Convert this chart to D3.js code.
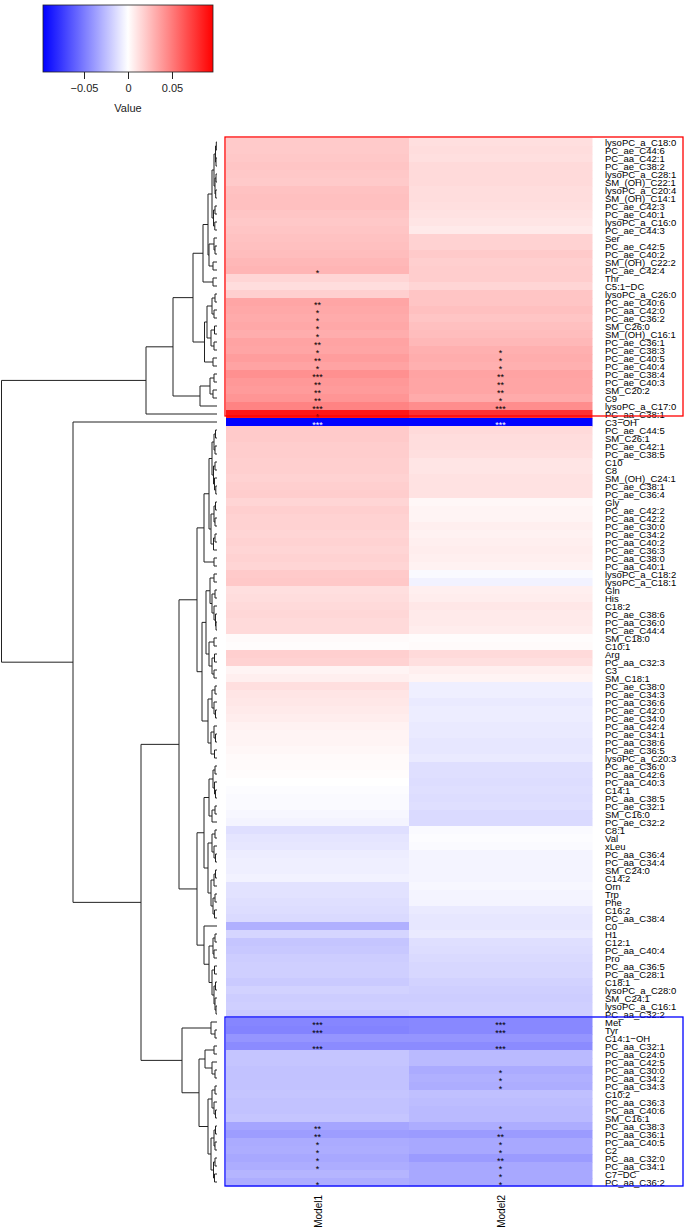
<!DOCTYPE html>
<html>
<head>
<meta charset="utf-8">
<script src="https://cdn.jsdelivr.net/npm/d3@7"></script>
<style>
  body { margin: 0; background: #fff; }
  svg { display: block; font-family: "Liberation Sans", Arial, sans-serif; }
</style>
</head>
<body>
<svg id="chart" width="685" height="1232"></svg>
<script>
// row labels, top to bottom
var labels = [
  "lysoPC_a_C18:0","PC_ae_C44:6","PC_aa_C42:1","PC_ae_C38:2","lysoPC_a_C28:1","SM_(OH)_C22:1",
  "lysoPC_a_C20:4","SM_(OH)_C14:1","PC_ae_C42:3","PC_ae_C40:1","lysoPC_a_C16:0","PC_ae_C44:3",
  "Ser","PC_ae_C42:5","PC_ae_C40:2","SM_(OH)_C22:2","PC_ae_C42:4","Thr","C5:1\u2212DC",
  "lysoPC_a_C26:0","PC_ae_C40:6","PC_aa_C42:0","PC_ae_C36:2","SM_C26:0","SM_(OH)_C16:1",
  "PC_ae_C36:1","PC_ae_C38:3","PC_ae_C40:5","PC_ae_C40:4","PC_ae_C38:4","PC_ae_C40:3",
  "SM_C20:2","C9","lysoPC_a_C17:0","PC_aa_C38:1","C3\u2212OH","PC_ae_C44:5","SM_C26:1",
  "PC_ae_C42:1","PC_ae_C38:5","C10","C8","SM_(OH)_C24:1","PC_ae_C38:1","PC_ae_C36:4","Gly",
  "PC_ae_C42:2","PC_aa_C42:2","PC_ae_C30:0","PC_ae_C34:2","PC_aa_C40:2","PC_ae_C36:3",
  "PC_aa_C38:0","PC_aa_C40:1","lysoPC_a_C18:2","lysoPC_a_C18:1","Gln","His","C18:2",
  "PC_ae_C38:6","PC_aa_C36:0","PC_ae_C44:4","SM_C18:0","C10:1","Arg","PC_aa_C32:3","C3",
  "SM_C18:1","PC_ae_C38:0","PC_ae_C34:3","PC_aa_C36:6","PC_ae_C42:0","PC_ae_C34:0",
  "PC_aa_C42:4","PC_ae_C34:1","PC_aa_C38:6","PC_ae_C36:5","lysoPC_a_C20:3","PC_ae_C36:0",
  "PC_aa_C42:6","PC_aa_C40:3","C14:1","PC_aa_C38:5","PC_ae_C32:1","SM_C16:0","PC_ae_C32:2",
  "C8:1","Val","xLeu","PC_aa_C36:4","PC_aa_C34:4","SM_C24:0","C14:2","Orn","Trp","Phe",
  "C16:2","PC_aa_C38:4","C0","H1","C12:1","PC_aa_C40:4","Pro","PC_aa_C36:5","PC_aa_C28:1",
  "C18:1","lysoPC_a_C28:0","SM_C24:1","lysoPC_a_C16:1","PC_aa_C32:2","Met","Tyr",
  "C14:1\u2212OH","PC_aa_C32:1","PC_aa_C24:0","PC_aa_C42:5","PC_aa_C30:0","PC_aa_C34:2",
  "PC_aa_C34:3","C10:2","PC_aa_C36:3","PC_aa_C40:6","SM_C16:1","PC_aa_C38:3","PC_aa_C36:1",
  "PC_aa_C40:5","C2","PC_aa_C32:0","PC_aa_C34:1","C7\u2212DC","PC_aa_C36:2"
];

var models = ["Model1", "Model2"];

var model1 = [
  0.020,0.020,0.021,0.022,0.021,0.020,0.023,0.024,0.024,0.022,0.021,0.022,
  0.023,0.024,0.025,0.027,0.028,0.016,0.013,
  0.018,0.034,0.033,0.032,0.033,0.031,0.035,0.034,0.037,0.035,0.042,0.039,0.038,0.040,0.047,0.088,
  -0.096,
  0.020,0.020,0.019,0.019,0.018,0.018,0.017,0.018,0.019,0.016,0.018,0.017,0.017,0.016,0.017,0.016,
  0.017,0.016,0.020,0.021,0.012,0.013,0.014,0.015,0.014,0.014,0.002,0.001,0.018,0.017,0.004,0.006,
  0.012,0.010,0.009,0.008,0.007,0.005,0.004,0.004,0.003,0.002,
  0.002,0.001,0.000,-0.001,-0.002,-0.002,-0.003,-0.004,
  -0.012,-0.010,-0.009,-0.007,-0.006,-0.006,-0.005,-0.011,-0.011,-0.012,-0.013,-0.014,
  -0.030,-0.016,-0.022,-0.021,-0.019,-0.018,-0.018,-0.020,-0.017,-0.019,-0.018,-0.020,
  -0.046,-0.047,-0.040,-0.044,
  -0.022,-0.022,-0.023,-0.023,-0.023,-0.022,-0.023,-0.023,-0.022,
  -0.034,-0.037,-0.032,-0.031,-0.033,-0.031,-0.028,-0.031
];

var model2 = [
  0.012,0.013,0.012,0.014,0.014,0.014,0.013,0.013,0.012,0.011,0.010,0.008,
  0.017,0.017,0.020,0.018,0.019,0.019,0.016,
  0.022,0.022,0.024,0.022,0.024,0.025,0.027,0.030,0.031,0.030,0.035,0.034,0.034,0.032,0.043,0.078,
  -0.096,
  0.014,0.013,0.013,0.012,0.010,0.010,0.011,0.011,0.011,0.003,0.004,0.004,0.006,0.005,0.006,0.007,
  0.006,0.005,-0.002,-0.005,0.006,0.007,0.009,0.008,0.008,0.007,0.001,0.002,0.014,0.012,0.006,0.004,
  -0.006,-0.006,-0.008,-0.007,-0.007,-0.008,-0.008,-0.009,-0.009,-0.008,
  -0.012,-0.012,-0.013,-0.012,-0.013,-0.012,-0.014,-0.014,
  -0.002,-0.001,-0.002,-0.004,-0.004,-0.004,-0.004,-0.003,-0.004,-0.004,-0.008,-0.009,
  -0.009,-0.008,-0.012,-0.013,-0.014,-0.015,-0.015,-0.017,-0.018,-0.019,-0.018,-0.018,
  -0.045,-0.045,-0.040,-0.044,
  -0.026,-0.026,-0.032,-0.030,-0.031,-0.024,-0.025,-0.026,-0.026,
  -0.031,-0.038,-0.033,-0.033,-0.038,-0.033,-0.033,-0.033
];

// significance marks [row, model1, model2]
var stars = [
  ["PC_ae_C42:4","*",""],
  ["PC_ae_C40:6","**",""],["PC_aa_C42:0","*",""],["PC_ae_C36:2","*",""],["SM_C26:0","*",""],
  ["SM_(OH)_C16:1","*",""],["PC_ae_C36:1","**",""],["PC_ae_C38:3","*","*"],["PC_ae_C40:5","**","*"],
  ["PC_ae_C40:4","*","*"],["PC_ae_C38:4","***","**"],["PC_ae_C40:3","**","**"],["SM_C20:2","**","**"],
  ["C9","**","*"],["lysoPC_a_C17:0","***","***"],["PC_aa_C38:1","*",""],["C3\u2212OH","***","***"],
  ["Met","***","***"],["Tyr","***","***"],["PC_aa_C32:1","***","***"],
  ["PC_aa_C30:0","","*"],["PC_aa_C34:2","","*"],["PC_aa_C34:3","","*"],
  ["PC_aa_C38:3","**","*"],["PC_aa_C36:1","**","**"],["PC_aa_C40:5","*","*"],["C2","*","*"],
  ["PC_aa_C32:0","*","**"],["PC_aa_C34:1","*","*"],["C7\u2212DC","","*"],["PC_aa_C36:2","*","*"]
];

// row dendrogram: [height, child, child], leaves are 1-based row numbers
var treeTop = [71,
  [44,
    [24,
      [14,
        [9,
          [5, [3, [1.5,[0.7,1,2],[1,3,4]], [2,[1,5,6],[1.3,7,8]]], [3.5,[2,9,10],[2.2,11,12]]],
          [8, [3,13,[2,14,15]], [4,16,17]]],
        [4,18,19]],
      [12.5,
        [10, [5,[2,20,21],[3,22,23]], [6,[2.5,24,25],[3,26,27]]],
        [4,28,29]]],
    [17, [7,[3,30,31],[4,32,33]], 34]],
  35];

var treeMid = [38,
  [20,
    [13,
      [8, [5,[3,[1.5,37,38],[2,39,40]],[3.5,[2,41,42],[2.5,43,[1.2,44,45]]]],
          [6,[3,[1.5,46,47],[2,48,49]],[3.5,[2,50,51],52]]],
      [3,53,54]],
    [15,
      [11, [7,[3,55,56],[5,[2,57,58],[3,59,[1.5,60,[1,61,62]]]]],
           [8,[3,63,64],[5,[2.5,65,66],[3,67,68]]]],
      [9, [5,[2,69,70],[3,71,[1.5,72,73]]], [6,[3,74,[1.5,75,76]],[2.5,77,78]]]]],
  [20,
    [13,
      [8, [4,[2,79,80],[2.5,81,[1.5,82,83]]], [5,[2,84,85],86]],
      [9, [5,[2,87,88],[3,89,[1.5,90,91]]], [6,[3,[1.5,92,93],94],[4,[2,95,96],[2.5,97,98]]]]],
    [13, 99,
      [8, [4,[2,100,101],[3,102,103]], [5,[2.5,104,105],[3,[1.5,106,107],[2,108,[1,109,110]]]]]]]];

var treeLow = [35,
  [6, 111, [2,112,113]],
  [18,
    [12, [3,114,115], [5,116,[2,117,118]]],
    [9, [5,[2,119,120],[3,121,[1.5,122,123]]],
        [6,[3,[1.5,124,125],[2,126,127]],[3.5,[2,128,129],[2.5,130,131]]]]]];

var treeRoot = [215.5, treeTop, [144, 36, [76, treeMid, treeLow]]];

var legendTicks = [-0.05, 0, 0.05];
var vmax = 0.0966;

var svg = d3.select("#chart");

var color = d3.scaleLinear()
  .domain([-vmax, 0, vmax])
  .range(["#0000ff", "#ffffff", "#ff0000"]);

// ---- colour key ----
var legX = d3.scaleLinear().domain([-vmax, vmax]).range([43, 213]);
var defs = svg.append("defs");
var grad = defs.append("linearGradient").attr("id", "keygrad");
d3.range(0, 1.0001, 0.05).forEach(function(t) {
  grad.append("stop").attr("offset", t).attr("stop-color", color(-vmax + 2 * vmax * t));
});
svg.append("rect")
  .attr("x", 43).attr("y", 5).attr("width", 170).attr("height", 67)
  .attr("fill", "url(#keygrad)").attr("stroke", "#222").attr("stroke-width", 0.8);

var keyAxis = svg.append("g")
  .attr("transform", "translate(0,72)")
  .call(d3.axisBottom(legX).tickValues(legendTicks).tickSize(7).tickPadding(5).tickFormat(d3.format("~g")));
keyAxis.select(".domain").remove();
keyAxis.selectAll("line").attr("stroke", "#222");
keyAxis.selectAll("text").attr("font-size", 11).attr("fill", "#222")
  .attr("font-family", "Liberation Sans, Arial, sans-serif");
svg.append("text")
  .attr("x", 128).attr("y", 112).attr("text-anchor", "middle")
  .attr("font-size", 11).attr("fill", "#222").text("Value");

// ---- heatmap ----
var y = d3.scaleBand().domain(labels).range([138, 1186]);
var x = d3.scaleBand().domain(models).range([226, 592]);

var cells = [];
labels.forEach(function(l, i) {
  cells.push({ row: l, model: "Model1", v: model1[i] });
  cells.push({ row: l, model: "Model2", v: model2[i] });
});

svg.append("g").selectAll("rect")
  .data(cells)
  .enter().append("rect")
  .attr("x", d => x(d.model))
  .attr("y", d => y(d.row))
  .attr("width", x.bandwidth() + 0.5)
  .attr("height", y.bandwidth() + 0.5)
  .attr("fill", d => color(d.v));

// stars
var starData = [];
stars.forEach(function(s) {
  if (s[1]) starData.push({ row: s[0], model: "Model1", s: s[1] });
  if (s[2]) starData.push({ row: s[0], model: "Model2", s: s[2] });
});
svg.append("g").selectAll("text")
  .data(starData)
  .enter().append("text")
  .attr("x", d => x(d.model) + x.bandwidth() / 2)
  .attr("y", d => y(d.row) + y.bandwidth() / 2 + 5.5)
  .attr("text-anchor", "middle")
  .attr("font-size", 9)
  .attr("fill", d => d.row === "C3\u2212OH" ? "#fff" : "#000")
  .text(d => d.s);

// row labels
svg.append("g").selectAll("text")
  .data(labels)
  .enter().append("text")
  .attr("x", 605)
  .attr("y", d => y(d) + y.bandwidth() / 2 + 3.5)
  .attr("font-size", 9.5)
  .attr("fill", "#000")
  .text(d => d);

// column labels
svg.append("g").selectAll("text")
  .data(models)
  .enter().append("text")
  .attr("transform", d => "translate(" + (x(d) + x.bandwidth() / 2 + 4) + ",1195) rotate(-90)")
  .attr("text-anchor", "end")
  .attr("font-size", 10)
  .attr("fill", "#000")
  .text(d => d);

// highlight boxes
svg.append("rect")
  .attr("x", 225).attr("y", y(labels[0]) - 1)
  .attr("width", 458).attr("height", y(labels[35]) - y(labels[0]) - 1)
  .attr("fill", "none").attr("stroke", "#ff0000").attr("stroke-width", 1.3);
svg.append("rect")
  .attr("x", 225).attr("y", y("Met") - 1)
  .attr("width", 458).attr("height", 1186 - y("Met") + 1)
  .attr("fill", "none").attr("stroke", "#0000ff").attr("stroke-width", 1.3);

// ---- dendrogram ----
function toNode(a) {
  if (Array.isArray(a)) return { h: a[0], children: a.slice(1).map(toNode) };
  return { h: 0, leaf: labels[a - 1] };
}
var root = d3.hierarchy(toNode(treeRoot));
var hx = d3.scaleLinear().domain([0, 215.5]).range([217, 1.5]);

root.eachAfter(function(n) {
  if (n.children) {
    n.py = (n.children[0].py + n.children[n.children.length - 1].py) / 2;
  } else {
    n.py = y(n.data.leaf) + y.bandwidth() / 2;
  }
  n.px = hx(n.data.h);
});

var segs = [];
root.each(function(n) {
  if (!n.children) return;
  var c0 = n.children[0], c1 = n.children[n.children.length - 1];
  segs.push([n.px, c0.py, n.px, c1.py]);
  n.children.forEach(function(c) { segs.push([n.px, c.py, c.px, c.py]); });
});

svg.append("g").selectAll("line")
  .data(segs)
  .enter().append("line")
  .attr("x1", d => d[0]).attr("y1", d => d[1])
  .attr("x2", d => d[2]).attr("y2", d => d[3])
  .attr("stroke", "#222").attr("stroke-width", 1);
</script>
</body>
</html>
